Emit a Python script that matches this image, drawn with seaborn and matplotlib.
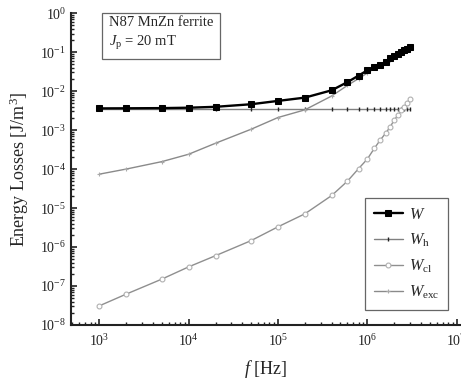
import numpy as np
import pandas as pd
import matplotlib
matplotlib.use("Agg")
import matplotlib.pyplot as plt
from matplotlib.ticker import LogLocator, NullFormatter
import seaborn as sns

# Measurement frequencies [Hz]
freq = [1e3, 2e3, 5e3, 1e4, 2e4, 5e4, 1e5, 2e5, 4e5, 6e5, 8e5,
        1.0e6, 1.2e6, 1.4e6, 1.6e6, 1.8e6, 2.0e6, 2.2e6, 2.4e6, 2.6e6, 2.8e6, 3.0e6]

# Total energy loss per cycle [J/m^3]
w_total = [3.6e-3, 3.62e-3, 3.66e-3, 3.75e-3, 3.95e-3, 4.6e-3, 5.6e-3, 6.8e-3, 1.05e-2, 1.7e-2, 2.5e-2,
           3.4e-2, 4.2e-2, 4.8e-2, 5.6e-2, 6.9e-2, 8.0e-2, 9.0e-2, 0.102, 0.111, 0.121, 0.132]

# Hysteresis component
w_hyst = [3.5e-3] * len(freq)

# Classical (eddy current) component
w_cl = [3.1e-8, 6.2e-8, 1.5e-7, 3.1e-7, 6.0e-7, 1.46e-6, 3.3e-6, 7.1e-6, 2.1e-5, 4.9e-5, 1.03e-4,
        1.8e-4, 3.4e-4, 5.6e-4, 8.2e-4, 1.2e-3, 1.8e-3, 2.4e-3, 3.2e-3, 4.0e-3, 5.0e-3, 6.2e-3]

# Excess component
w_exc = [7.4e-5, 1.0e-4, 1.55e-4, 2.4e-4, 4.6e-4, 1.05e-3, 2.1e-3, 3.3e-3, 7.5e-3, 1.4e-2, 2.1e-2,
         2.9e-2, 3.8e-2, 4.4e-2, 5.2e-2, 6.4e-2, 7.5e-2, 8.4e-2, 9.5e-2, 0.103, 0.112, 0.122]

sns.set_style("ticks")
plt.rcParams["font.family"] = ["Liberation Serif", "DejaVu Serif"]
plt.rcParams["mathtext.fontset"] = "custom"
plt.rcParams["mathtext.rm"] = "Liberation Serif"
plt.rcParams["mathtext.it"] = "Liberation Serif:italic"
plt.rcParams["mathtext.bf"] = "Liberation Serif:bold"

fig = plt.figure(figsize=(4.61, 3.86), dpi=100)
ax = fig.add_axes([0.154, 0.158, 0.846, 0.808])

df = pd.DataFrame({"f": freq, "W": w_total, "Wh": w_hyst, "Wcl": w_cl, "Wexc": w_exc})

sns.lineplot(data=df, x="f", y="Wh", ax=ax, color="#808080", lw=1.0,
             marker="|", markersize=3, markeredgecolor="#222222", markeredgewidth=1.0,
             label=r"$W_{\mathrm{h}}$", zorder=2)
sns.lineplot(data=df, x="f", y="Wexc", ax=ax, color="#8a8a8a", lw=1.0,
             marker="+", markersize=3.5, markeredgecolor="#aaaaaa", markeredgewidth=0.8,
             label=r"$W_{\mathrm{exc}}$", zorder=2)
sns.lineplot(data=df, x="f", y="Wcl", ax=ax, color="#8f8f8f", lw=1.0,
             marker="o", markersize=3.5, markerfacecolor="white", markeredgecolor="#b0b0b0",
             markeredgewidth=0.8, label=r"$W_{\mathrm{cl}}$", zorder=2)
sns.lineplot(data=df, x="f", y="W", ax=ax, color="black", lw=1.7,
             marker="s", markersize=4.5, markerfacecolor="black", markeredgecolor="black",
             label=r"$W$", zorder=3)

ax.set_xscale("log")
ax.set_yscale("log")
ax.set_xlim(482, 1.12e7)
ax.set_ylim(1e-8, 1)

ax.xaxis.set_major_locator(LogLocator(base=10, numticks=12))
ax.xaxis.set_minor_locator(LogLocator(base=10, subs=np.arange(2, 10), numticks=12))
ax.yaxis.set_major_locator(LogLocator(base=10, numticks=12))
ax.yaxis.set_minor_locator(LogLocator(base=10, subs=np.arange(2, 10), numticks=12))
ax.xaxis.set_minor_formatter(NullFormatter())
ax.yaxis.set_minor_formatter(NullFormatter())

for side in ("top", "right"):
    ax.spines[side].set_visible(False)
for side in ("left", "bottom"):
    ax.spines[side].set_linewidth(1.5)
    ax.spines[side].set_color("#222222")

ax.tick_params(which="major", direction="in", length=4, width=1.2, labelsize=10, colors="#222222")
ax.tick_params(which="minor", direction="in", length=2.5, width=1.0, colors="#222222")
ax.tick_params(axis="x", pad=6)

ax.set_xlabel(r"$f$ [Hz]", fontsize=13, labelpad=6)
ax.set_ylabel(r"Energy Losses [J/m$^3$]", fontsize=13, labelpad=6)

ax.text(0.097, 0.99, "N87 MnZn ferrite\n" + r"$J_{\mathrm{p}}$ = 20 mT",
        transform=ax.transAxes, va="top", ha="left", fontsize=10.5, linespacing=1.4,
        bbox=dict(boxstyle="square,pad=0.45", facecolor="white", edgecolor="#666666", linewidth=0.9))

handles, labels = ax.get_legend_handles_labels()
order = [labels.index(l) for l in [r"$W$", r"$W_{\mathrm{h}}$", r"$W_{\mathrm{cl}}$", r"$W_{\mathrm{exc}}$"]]
leg = ax.legend([handles[i] for i in order], [labels[i] for i in order],
                loc="lower right", bbox_to_anchor=(0.967, 0.048), borderaxespad=0,
                fontsize=11.5, frameon=True, fancybox=False, edgecolor="#666666", framealpha=1,
                handlelength=1.8, handletextpad=0.4, labelspacing=0.55, borderpad=0.55)
leg.get_frame().set_linewidth(0.9)

fig.savefig("out.png", dpi=100)
